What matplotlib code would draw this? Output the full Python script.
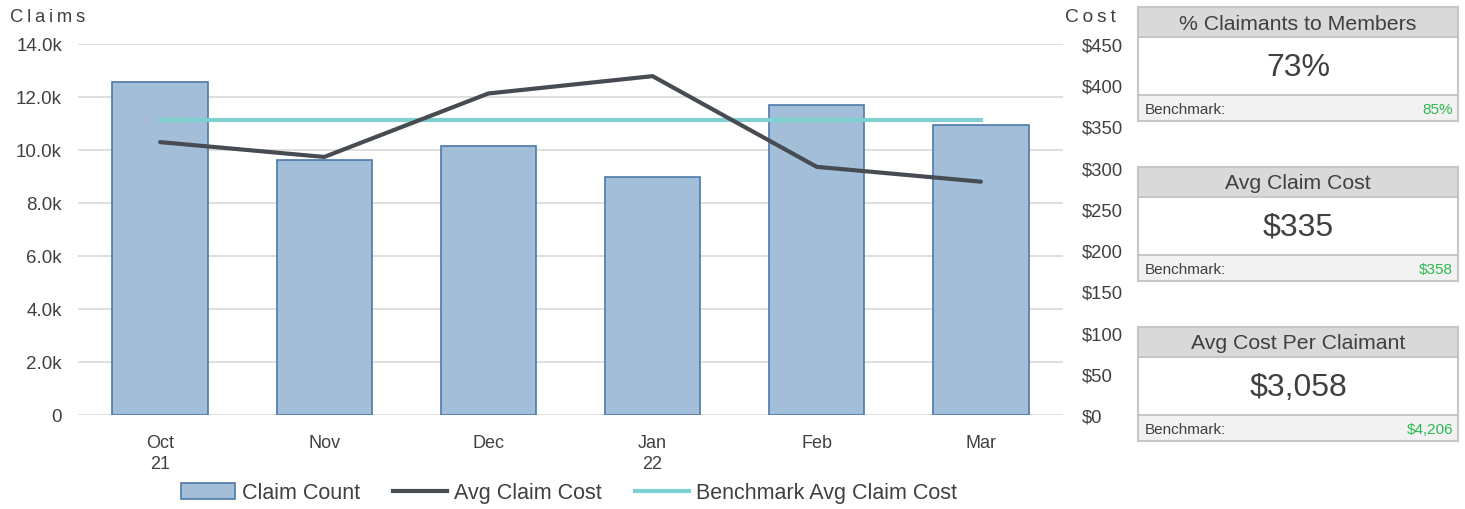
import matplotlib
matplotlib.use("Agg")
import matplotlib.pyplot as plt
from matplotlib.patches import Rectangle, Patch
from matplotlib.lines import Line2D
from matplotlib.ticker import FuncFormatter, MultipleLocator

plt.rcParams['font.family'] = ['Liberation Sans', 'DejaVu Sans']

months = ["Oct\n21", "Nov", "Dec", "Jan\n22", "Feb", "Mar"]
claim_count = [12550, 9620, 10150, 8990, 11680, 10940]
avg_claim_cost = [331, 313, 390, 411, 301, 283]
benchmark_cost = [358, 358, 358, 358, 358, 358]

kpi_titles = ["% Claimants to Members", "Avg Claim Cost", "Avg Cost Per Claimant"]
kpi_values = ["73%", "$335", "$3,058"]
kpi_benchmarks = ["85%", "$358", "$4,206"]

W, H = 1465, 510
fig = plt.figure(figsize=(W / 100, H / 100), dpi=100)

ax = fig.add_axes([78 / W, 1 - 416 / H, (1063 - 78) / W, (416 - 45) / H])
x = list(range(len(months)))
bar_c = "#a3bed8"
bar_e = "#4d79a9"
line_c = "#474b52"
bench_c = "#7fd1d1"
txt_c = "#404040"

ax.bar(x, claim_count, width=0.58, color=bar_c, edgecolor=bar_e, linewidth=1.2, zorder=2)
ax.set_ylim(0, 14000)
ax.set_xlim(-0.5, 5.5)
ax.yaxis.set_major_locator(MultipleLocator(2000))
ax.yaxis.set_major_formatter(FuncFormatter(lambda v, p: "0" if v == 0 else f"{v/1000:.1f}k"))
ax.grid(axis='y', color="#d9d9d9", linewidth=1.2, zorder=0)
ax.set_axisbelow(True)
for s in ax.spines.values():
    s.set_visible(False)
ax.tick_params(axis='both', length=0, colors=txt_c)
ax.tick_params(axis='y', pad=11.5, labelsize=13.5)
ax.set_xticks(x)
ax.set_xticklabels(months, linespacing=1.3)
ax.tick_params(axis='x', pad=14, labelsize=13)

ax2 = ax.twinx()
ax2.plot(x, avg_claim_cost, color=line_c, linewidth=3, solid_capstyle='round', zorder=4)
ax2.plot(x, benchmark_cost, color=bench_c, linewidth=3, zorder=3)
ax2.set_ylim(0, 450)
ax2.yaxis.set_major_locator(MultipleLocator(50))
ax2.yaxis.set_major_formatter(FuncFormatter(lambda v, p: f"${v:.0f}"))
for s in ax2.spines.values():
    s.set_visible(False)
ax2.tick_params(axis='y', length=0, labelsize=13.3, colors=txt_c, pad=13.7)

ts = "\u2009"
fig.text(10 / W, 1 - 18 / H, ts.join("Claims"), fontsize=13.3, color=txt_c, va='center', ha='left')
fig.text(1065 / W, 1 - 18 / H, ts.join("Cost"), fontsize=13.8, color=txt_c, va='center', ha='left')

handles = [Patch(facecolor=bar_c, edgecolor=bar_e, linewidth=1.2),
           Line2D([0], [0], color=line_c, linewidth=3),
           Line2D([0], [0], color=bench_c, linewidth=3)]
fig.legend(handles, ["Claim Count", "Avg Claim Cost", "Benchmark Avg Claim Cost"],
           loc='center', bbox_to_anchor=(569 / W, 1 - 494 / H), ncol=3, frameon=False,
           fontsize=15.5, handlelength=2.5, handletextpad=0.33, columnspacing=1.55,
           labelcolor=txt_c)

# KPI panels
kx = fig.add_axes([0, 0, 1, 1], zorder=5)
kx.set_xlim(0, W)
kx.set_ylim(H, 0)
kx.axis('off')
kx.patch.set_alpha(0)
x0, x1 = 1138, 1458
tops = [8, 168, 328]
for t, title, val, bm in zip(tops, kpi_titles, kpi_values, kpi_benchmarks):
    hh, bh, fh = 30, 58, 26
    kx.add_patch(Rectangle((x0, t), x1 - x0, hh, facecolor="#d9d9d9", edgecolor="none"))
    kx.add_patch(Rectangle((x0, t + hh), x1 - x0, bh, facecolor="white", edgecolor="none"))
    kx.add_patch(Rectangle((x0, t + hh + bh), x1 - x0, fh, facecolor="#f2f2f2", edgecolor="none"))
    kx.add_patch(Rectangle((x0, t), x1 - x0, hh + bh + fh, facecolor="none", edgecolor="#c6c6c6", linewidth=1.5))
    kx.plot([x0, x1], [t + hh, t + hh], color="#bfbfbf", linewidth=1.2)
    kx.plot([x0, x1], [t + hh + bh, t + hh + bh], color="#bfbfbf", linewidth=1.2)
    kx.text((x0 + x1) / 2, t + hh / 2 + 1, title, fontsize=15.3, color=txt_c, ha='center', va='center')
    kx.text((x0 + x1) / 2, t + hh + bh / 2 + 1, val, fontsize=23, color=txt_c, ha='center', va='center')
    kx.text(x0 + 7, t + hh + bh + fh / 2 + 1, "Benchmark:", fontsize=11, color=txt_c, ha='left', va='center')
    kx.text(x1 - 5, t + hh + bh + fh / 2 + 1, bm, fontsize=11, color="#2cb84f", ha='right', va='center')

fig.savefig("out.png", dpi=100)
